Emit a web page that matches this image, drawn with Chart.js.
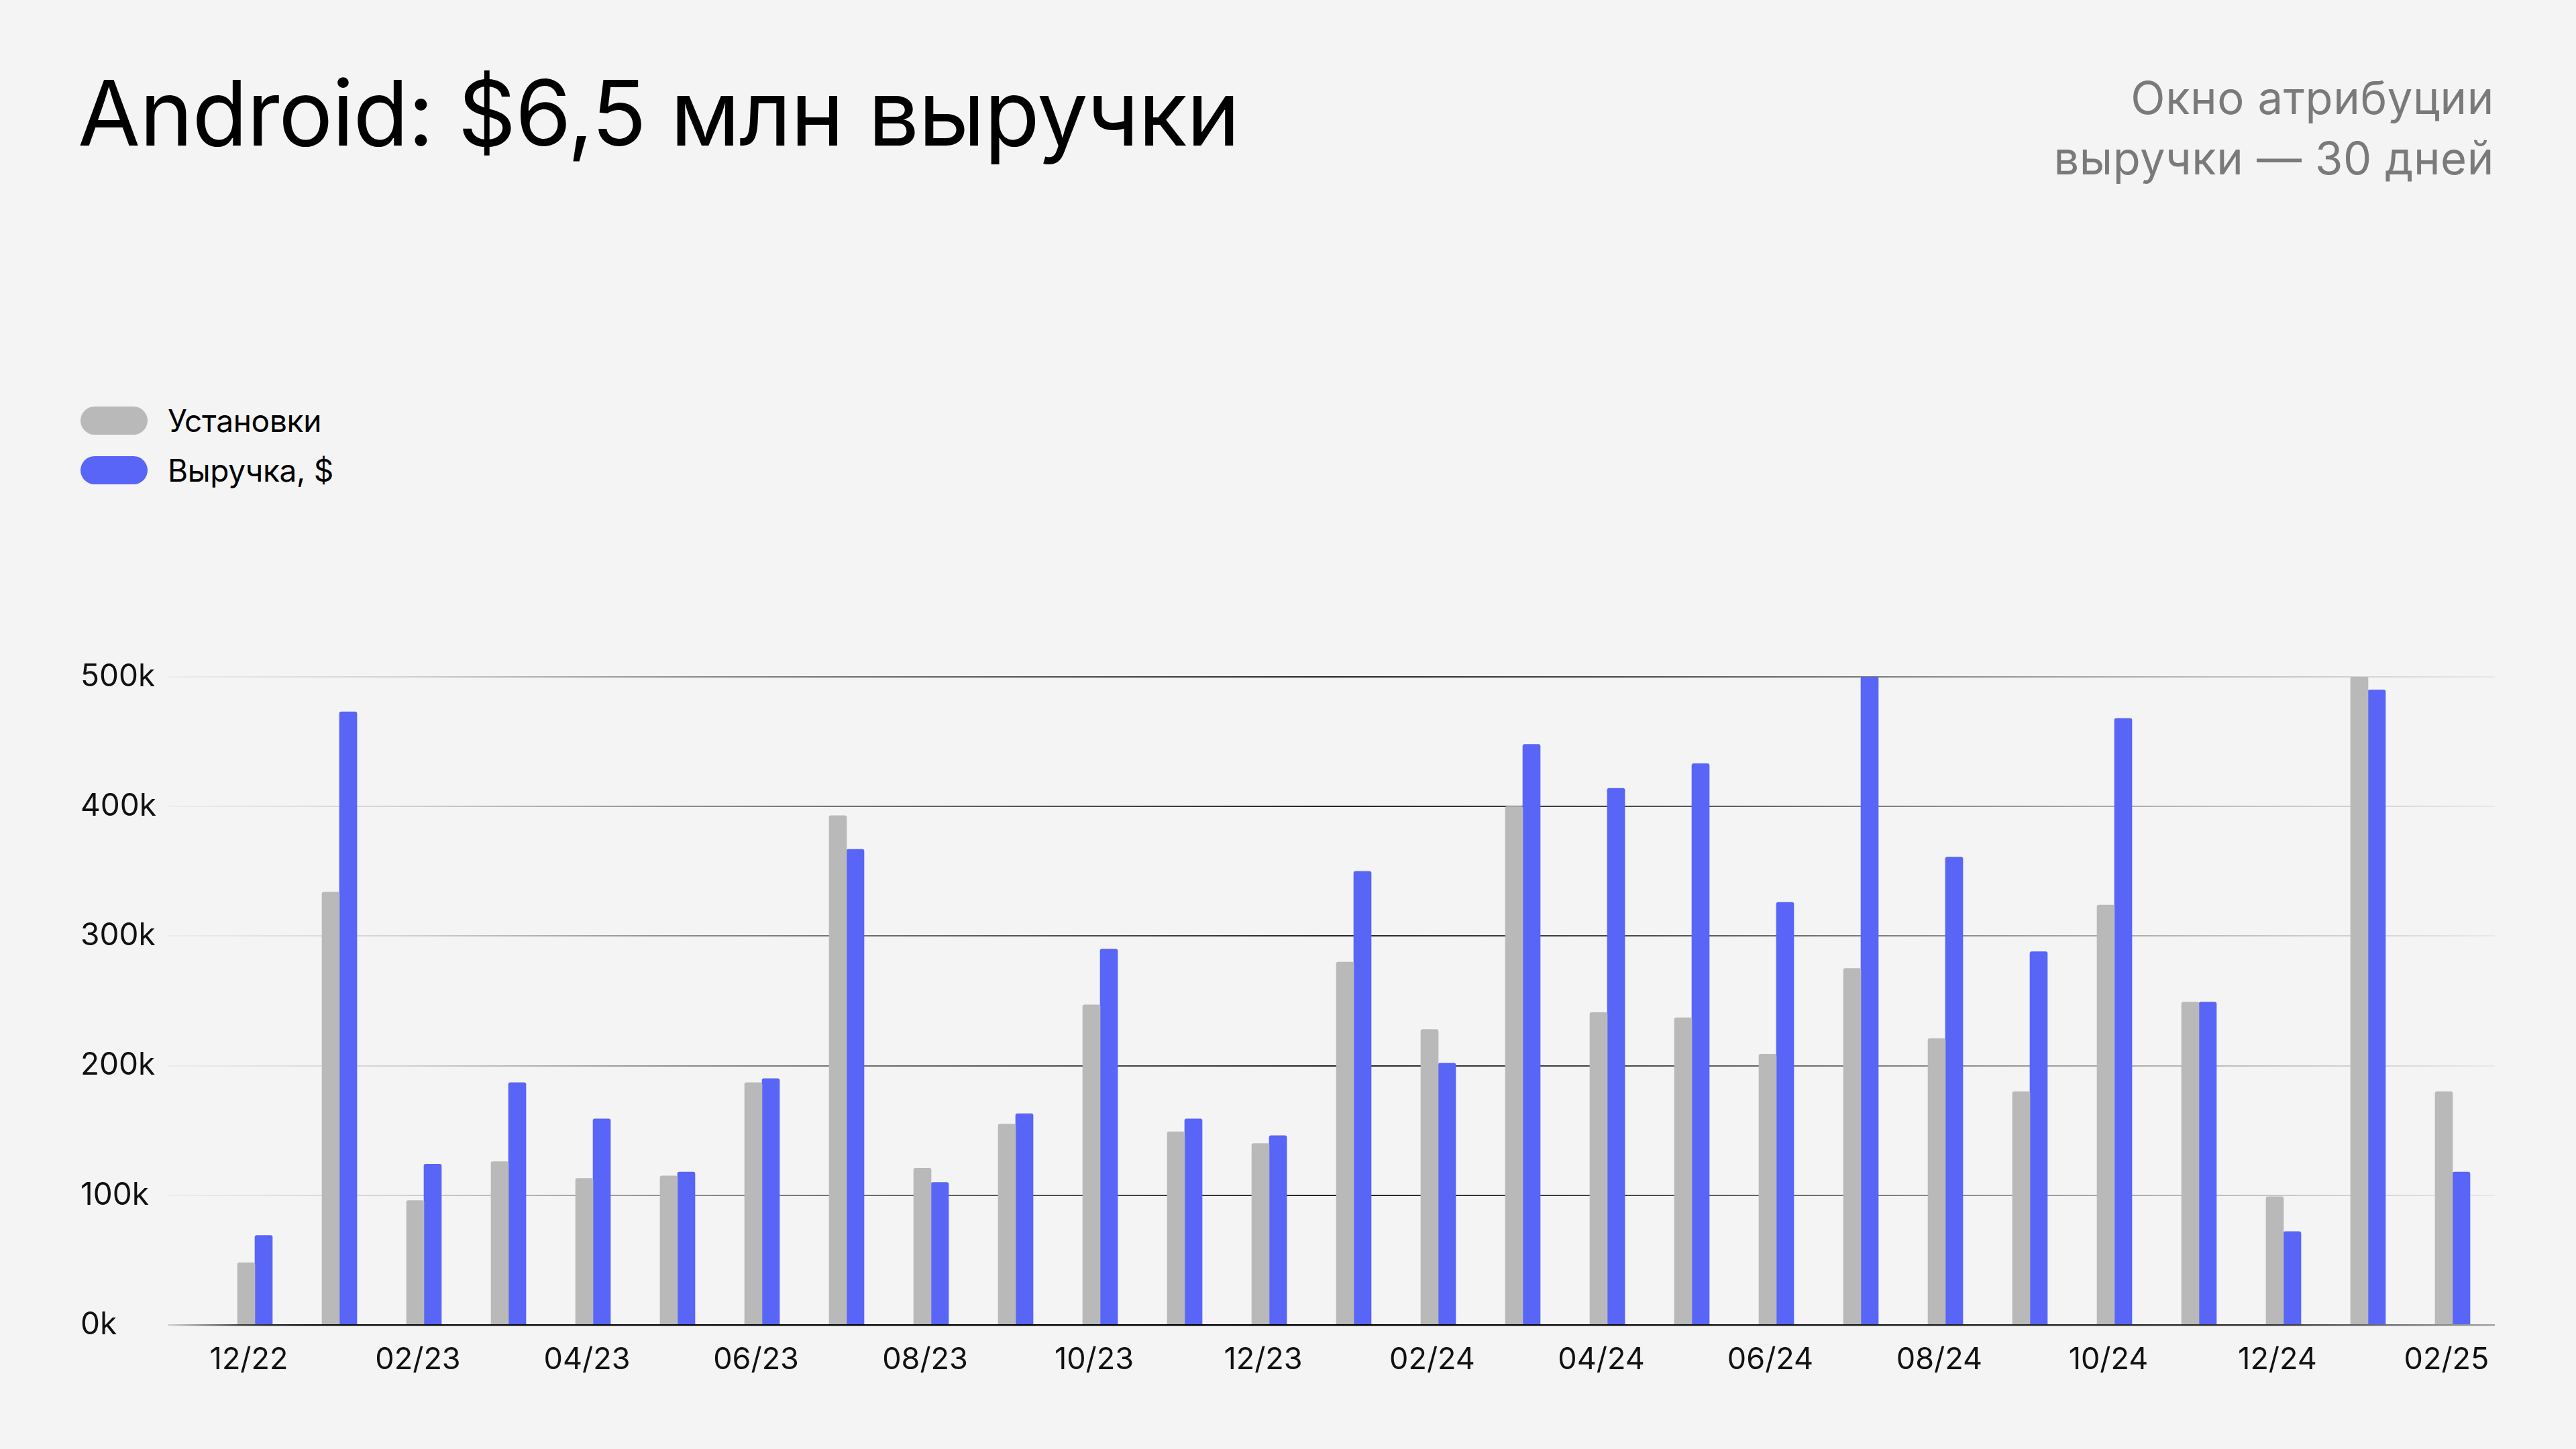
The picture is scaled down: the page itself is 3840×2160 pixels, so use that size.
<!DOCTYPE html>
<html lang="ru">
<head>
<meta charset="utf-8">
<title>Android: $6,5 млн выручки</title>
<script src="https://cdn.jsdelivr.net/npm/chart.js@4.4.1/dist/chart.umd.min.js"></script>
<style>
  html, body { margin: 0; padding: 0; }
  body {
    width: 3840px; height: 2160px; position: relative; overflow: hidden;
    background: #f4f4f4; font-family: Inter, "Noto Sans", sans-serif; color: #000;
  }
  #chart { position: absolute; left: 0; top: 0; }
  .title {
    position: absolute; left: 116px; top: 101px;
    font-size: 135px; line-height: 1; font-weight: 400; letter-spacing: -1.2px; white-space: nowrap;
  }
  .note {
    position: absolute; right: 122px; top: 101px; text-align: right;
    font-size: 67px; line-height: 90px; letter-spacing: 0.6px; color: #7a7a7a; white-space: nowrap;
  }
  #legend { position: absolute; left: 120px; top: 590px; }
  .item { display: flex; align-items: center; height: 74px; font-size: 46px; letter-spacing: -0.3px; }
  .swatch { width: 100px; height: 42px; border-radius: 21px; margin-right: 30px; }
</style>
</head>
<body>
<div class="title">Android: $6,5 млн выручки</div>
<div class="note">Окно атрибуции<br>выручки — 30 дней</div>
<div id="legend"></div>
<canvas id="chart" width="3840" height="2160"></canvas>
<script>
const months = ['12/22', '01/23', '02/23', '03/23', '04/23', '05/23', '06/23', '07/23', '08/23',
  '09/23', '10/23', '11/23', '12/23', '01/24', '02/24', '03/24', '04/24', '05/24', '06/24',
  '07/24', '08/24', '09/24', '10/24', '11/24', '12/24', '01/25', '02/25'];

const installs = [48000, 334000, 96000, 126000, 113000, 115000, 187000, 393000, 121000,
  155000, 247000, 149000, 140000, 280000, 228000, 400000, 241000, 237000, 209000,
  275000, 221000, 180000, 324000, 249000, 99000, 500000, 180000];

const revenue = [69000, 473000, 124000, 187000, 159000, 118000, 190000, 367000, 110000,
  163000, 290000, 159000, 146000, 350000, 202000, 448000, 414000, 433000, 326000,
  500000, 361000, 288000, 468000, 249000, 72000, 490000, 118000];

const seriesNames = ['Установки', 'Выручка, $'];
const seriesColors = ['#b9b9b9', '#5865f7'];

const yMax = 500000;
const yStep = 100000;

// gridlines fade out at both ends
const gridStops = [[0, '#ececec'], [0.1, '#d2d2d2'], [0.22, '#8c8c8c'], [0.36, '#555'],
  [0.5, '#242424'], [0.62, '#444'], [0.76, '#888'], [0.88, '#bcbcbc'], [1, '#e8e8e8']];
const baseStops = [[0, '#d4d4d4'], [0.03, '#444'], [0.06, '#111'], [0.5, '#000'],
  [0.9, '#333'], [1, '#a4a4a4']];

const tickLen = 67;

function lineGradient(chart, stops) {
  const area = chart.chartArea;
  if (!area) return '#999';
  const g = chart.ctx.createLinearGradient(area.left - tickLen, 0, area.right, 0);
  stops.forEach(s => g.addColorStop(s[0], s[1]));
  return g;
}

Chart.defaults.font.family = 'Inter, "Noto Sans", sans-serif';
Chart.defaults.font.size = 46;
Chart.defaults.color = '#111';

const ctx = document.getElementById('chart').getContext('2d');
const chart = new Chart(ctx, {
  type: 'bar',
  data: {
    labels: months,
    datasets: [
      { label: seriesNames[0], data: installs, backgroundColor: seriesColors[0] },
      { label: seriesNames[1], data: revenue, backgroundColor: seriesColors[1] }
    ]
  },
  options: {
    responsive: false,
    animation: false,
    layout: { padding: { left: 120, right: 121, top: 1009, bottom: 85 } },
    datasets: {
      bar: {
        barThickness: 26,
        borderRadius: { topLeft: 3, topRight: 3 },
        borderSkipped: 'start'
      }
    },
    scales: {
      x: {
        grid: { display: false, drawTicks: false },
        border: { display: false },
        ticks: {
          autoSkip: false,
          maxRotation: 0,
          padding: 25,
          labelOffset: -9,
          font: { size: 45 },
          callback: (val, i) => (i % 2 === 0 ? months[i] : '')
        },
        afterFit: (scale) => { scale.height = 100; }
      },
      y: {
        min: 0,
        max: yMax,
        border: { display: false },
        grid: {
          tickLength: tickLen,
          color: (c) => lineGradient(c.chart, c.tick && c.tick.value === 0 ? baseStops : gridStops),
          lineWidth: (c) => (c.tick && c.tick.value === 0 ? 2.5 : 2)
        },
        ticks: {
          stepSize: yStep,
          crossAlign: 'far',
          callback: (v) => v / 1000 + 'k'
        },
        afterFit: (scale) => { scale.width = 197; }
      }
    },
    plugins: {
      legend: { display: false },
      tooltip: { enabled: false }
    }
  }
});

// legend in html, built from the chart datasets
const legend = document.getElementById('legend');
chart.data.datasets.forEach(ds => {
  const row = document.createElement('div');
  row.className = 'item';
  const sw = document.createElement('span');
  sw.className = 'swatch';
  sw.style.background = ds.backgroundColor;
  const txt = document.createElement('span');
  txt.textContent = ds.label;
  row.appendChild(sw);
  row.appendChild(txt);
  legend.appendChild(row);
});
</script>
</body>
</html>
